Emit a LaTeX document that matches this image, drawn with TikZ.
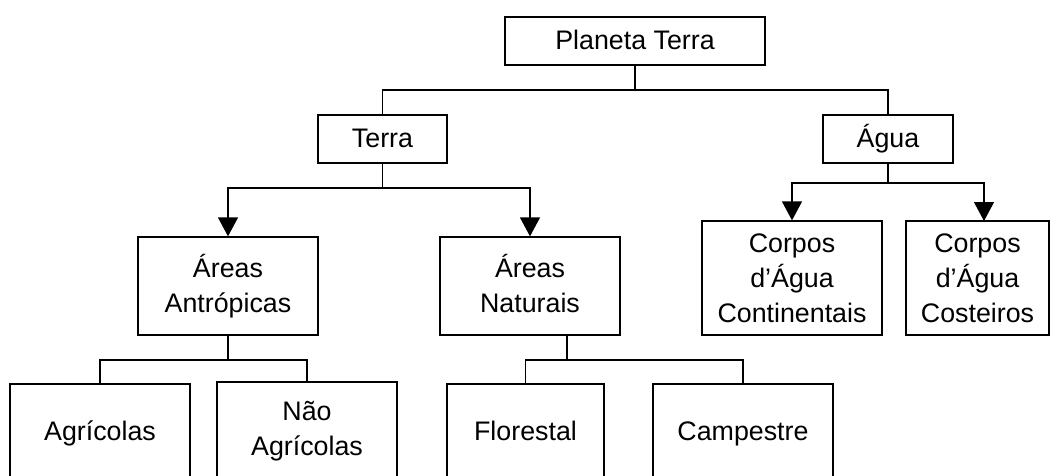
\documentclass[tikz,border=0pt]{standalone}
\usepackage{fontspec}
\setmainfont{Liberation Sans}
\usetikzlibrary{arrows.meta}
\begin{document}
\begin{tikzpicture}[x=1pt,y=-1pt,
  box/.style={draw=black, line width=1.3pt, inner sep=0pt, align=center,
    font=\fontsize{26.8}{35}\selectfont},
  one/.style={text height=19.5pt, text depth=3pt},
  link/.style={line width=1.3pt},
  arr/.style={link, -{Triangle[width=20pt,length=19pt]}}]
\useasboundingbox (0,0) rectangle (1050,475);
\clip (0,0) rectangle (1050,475);
% nodes
\node[box, one, minimum width=260pt, minimum height=48pt] (pt) at (635,41) {Planeta Terra};
\node[box, one, minimum width=129pt, minimum height=48pt] (terra) at (382.5,139) {Terra};
\node[box, one, minimum width=130pt, minimum height=48pt] (agua) at (888,139) {Água};
\node[box, minimum width=180pt, minimum height=98pt] (antr) at (228,286) {Áreas\\Antrópicas};
\node[box, minimum width=180pt, minimum height=98pt] (nat) at (530,286) {Áreas\\Naturais\vphantom{p}};
\node[box, minimum width=180pt, minimum height=114pt] (cont) at (792,278) {Corpos\\d’Água\\Continentais};
\node[box, minimum width=143pt, minimum height=114pt] (cost) at (977.5,278) {Corpos\\d’Água\\Costeiros};
\node[box, one, minimum width=180pt, minimum height=96pt] (agr) at (100,432) {Agrícolas};
\node[box, minimum width=180pt, minimum height=98pt] (nao) at (307,431) {Não\\Agrícolas};
\node[box, one, minimum width=157pt, minimum height=96pt] (flo) at (525.5,432) {Florestal};
\node[box, one, minimum width=180pt, minimum height=96pt] (camp) at (743,432) {Campestre};
% junctions
\coordinate (j1) at (pt.south |- 0,90);
\coordinate (j2) at (terra.south |- 0,188);
\coordinate (j3) at (agua.south |- 0,183);
\coordinate (j4) at (antr.south |- 0,360);
\coordinate (j5) at (567,360);
\coordinate (costin) at (984,221);
% connectors
\draw[link] (pt.south) -- (j1);
\draw[link] (terra.north) |- (j1) -| (agua.north);
\draw[link] (terra.south) -- (j2);
\draw[arr] (j2) -| (antr.north);
\draw[arr] (j2) -| (nat.north);
\draw[link] (agua.south) -- (j3);
\draw[arr] (j3) -| (cont.north);
\draw[arr] (j3) -| (costin);
\draw[link] (antr.south) -- (j4);
\draw[link] (agr.north) |- (j4) -| (nao.north);
\draw[link] (nat.south -| j5) -- (j5);
\draw[link] (flo.north) |- (j5) -| (camp.north);
\end{tikzpicture}
\end{document}
